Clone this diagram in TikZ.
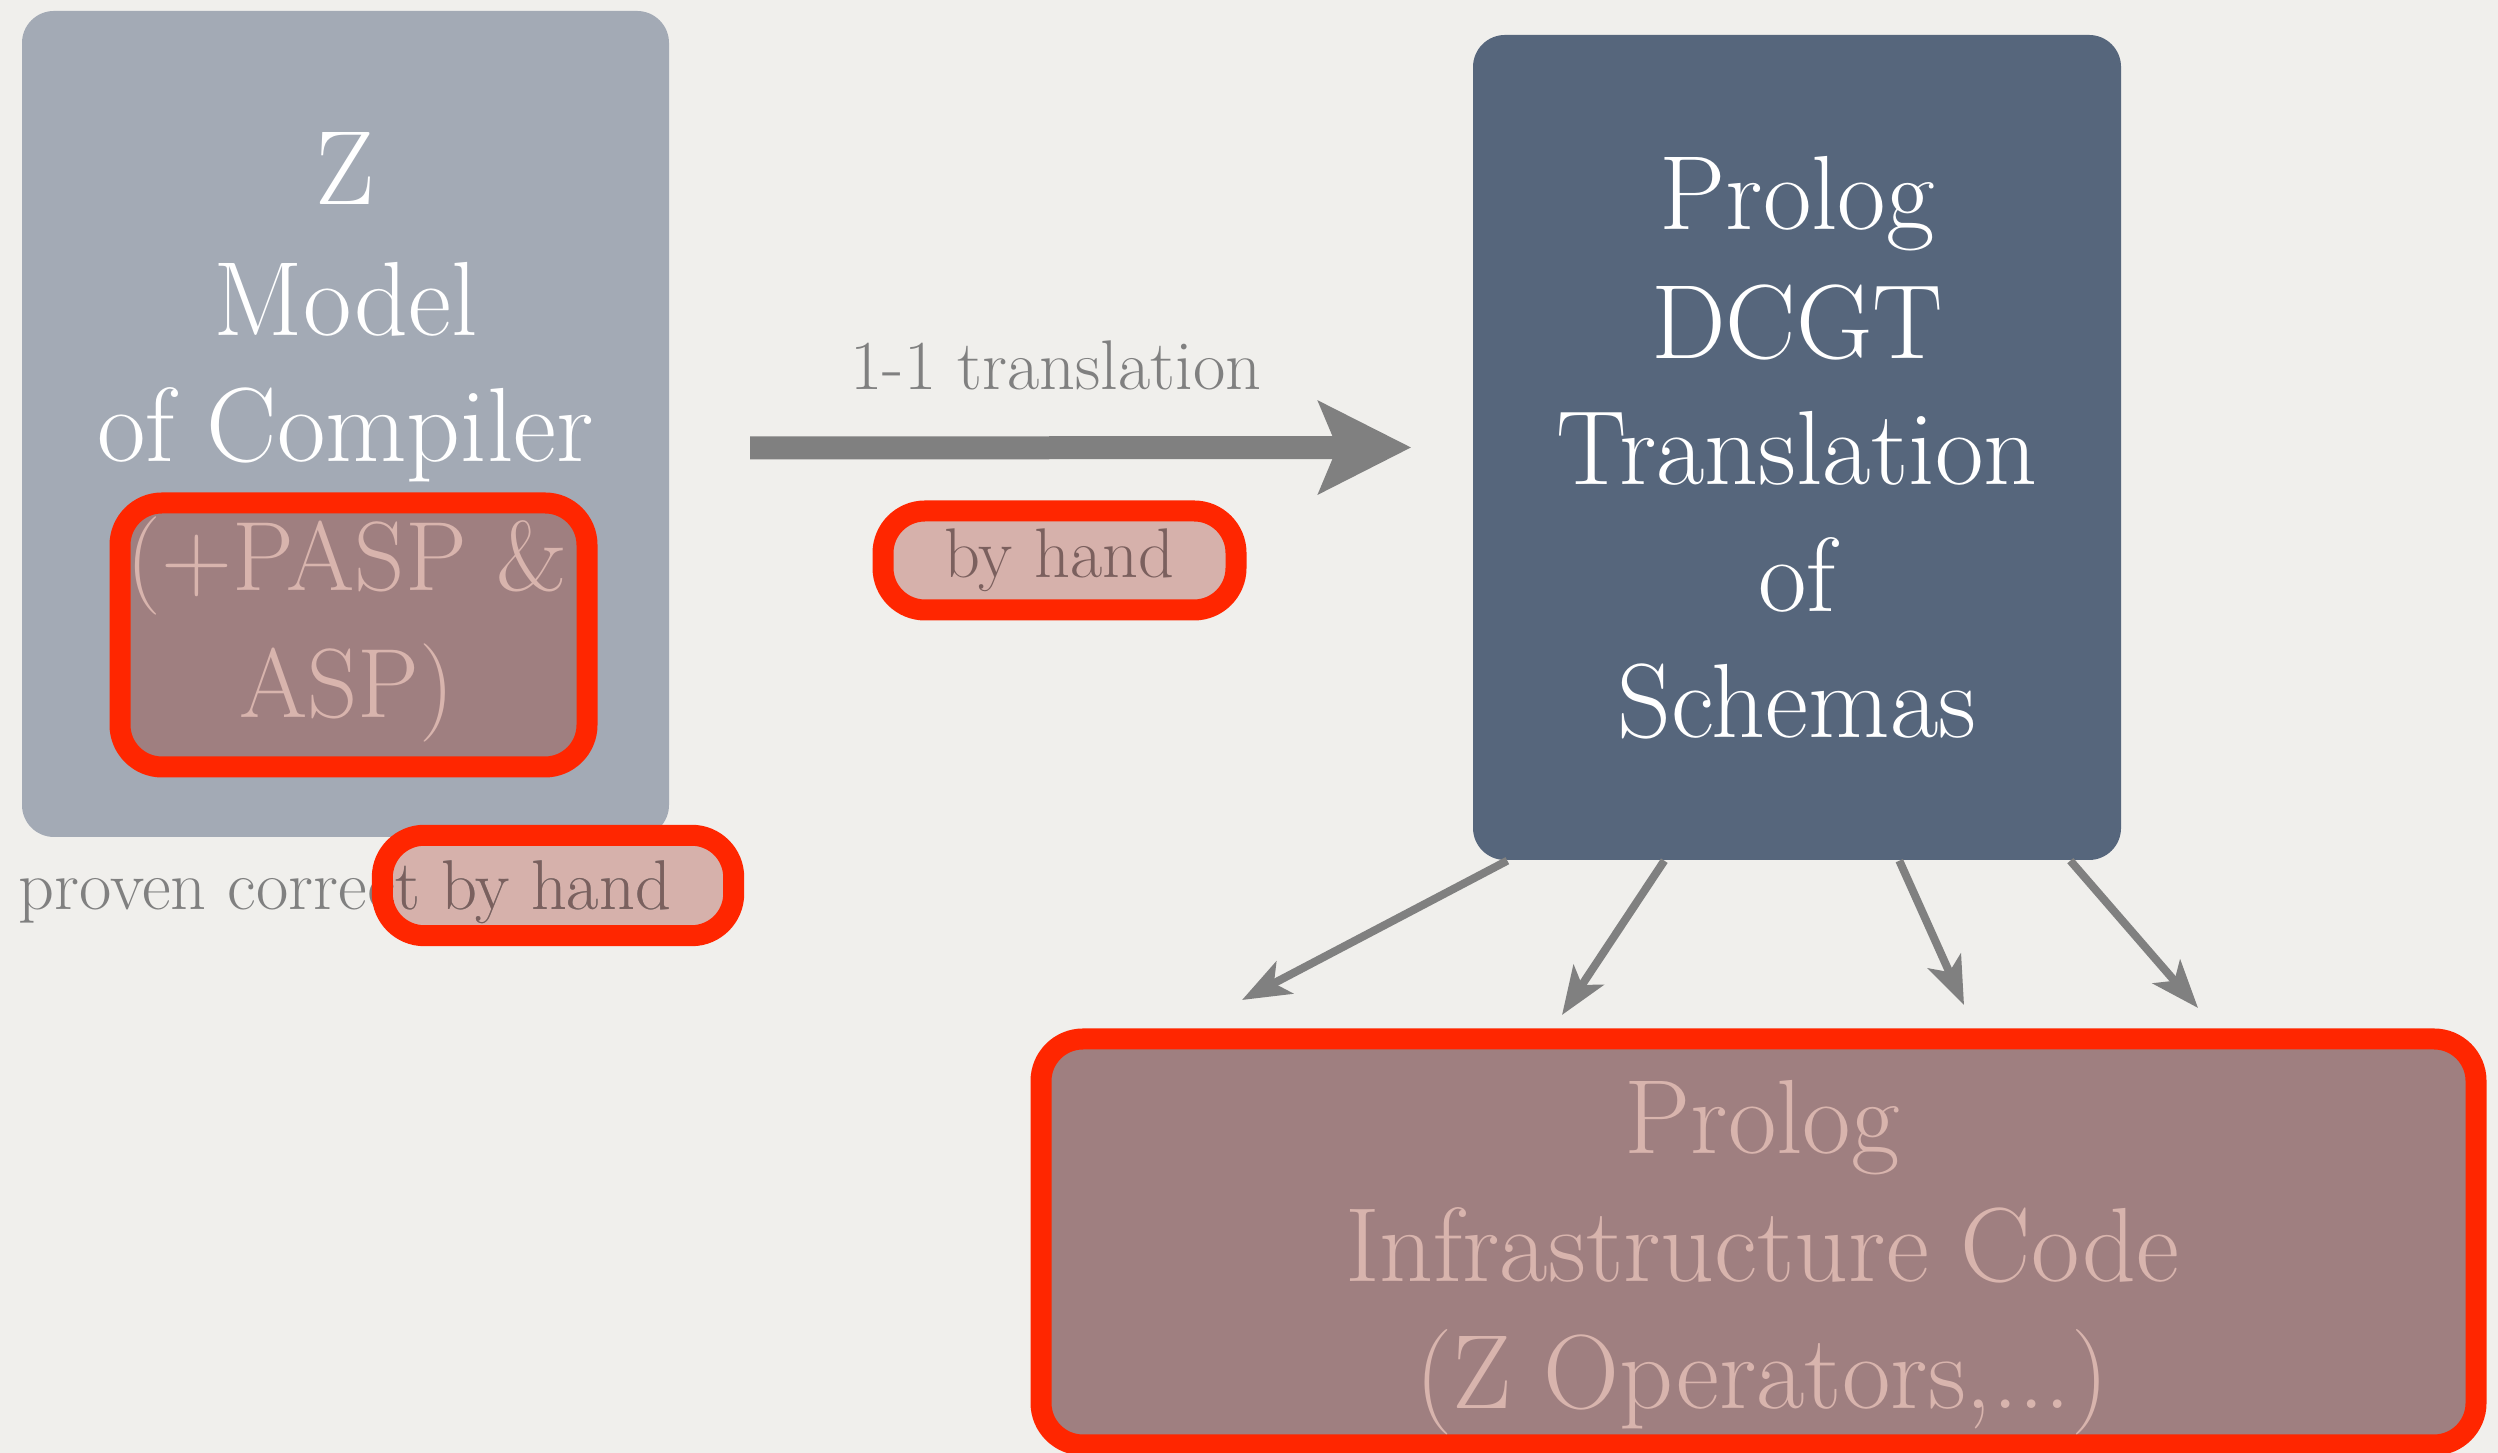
\documentclass[tikz,border=0pt]{standalone}
\usetikzlibrary{arrows.meta,positioning}
\definecolor{colPaper}{RGB}{240,239,236}
\definecolor{colZ}{RGB}{163,170,181}
\definecolor{colDCGT}{RGB}{86,102,124}
\definecolor{colRed}{RGB}{255,38,0}
\definecolor{colBrown}{RGB}{159,127,128}
\definecolor{colPinkText}{RGB}{216,180,173}
\definecolor{colPink}{RGB}{214,177,171}
\definecolor{colHandText}{RGB}{123,96,94}
\definecolor{colGrey}{RGB}{128,128,128}
\begin{document}
\begin{tikzpicture}[
    big/.style={font=\fontsize{30}{36}\selectfont, anchor=base, inner sep=0pt},
    small/.style={font=\fontsize{20}{24}\selectfont, inner sep=0pt},
    panel/.style={rounded corners=0.32cm, inner sep=0pt},
    redline/.style={draw=colRed, line width=0.21cm, rounded corners=0.42cm, inner sep=0pt},
    bigArrow/.style={colGrey, line width=0.23cm, -{Stealth[length=0.92cm, width=0.91cm, inset=0.18cm]}},
    thinArrow/.style={colGrey, line width=0.08cm, -{Stealth[length=0.48cm, width=0.36cm, inset=0.12cm]}}
]
    % paper
    \fill[colPaper] (0,0) rectangle (24.98,14.53);
    \useasboundingbox (0,0) rectangle (24.98,14.53);

    % Z model
    \node[panel, fill=colZ, minimum width=6.47cm, minimum height=8.26cm] (zmodel) at (3.455,10.29) {};
    \node[redline, fill=colBrown, minimum width=4.67cm, minimum height=2.64cm] (pasp) at (3.535,8.18) {};
    \foreach \txt/\y [count=\i] in {Z/12.48, Model/11.17, of Compiler/9.91}
        \node[big, white] (zline\i) at (3.455,\y) {\txt};
    \node[big, colPinkText, font=\fontsize{28}{36}\selectfont] (pasp1) at (3.47,8.62) {(+PASP \&};
    \node[big, colPinkText, font=\fontsize{28}{36}\selectfont] (pasp2) at (3.47,7.35) {ASP)};

    % Prolog DCGT
    \node[panel, fill=colDCGT, minimum width=6.48cm, minimum height=8.25cm] (dcgt) at (17.97,10.055) {};
    \foreach \txt/\y [count=\i] in {Prolog/12.23, DCGT/10.94, Translation/9.68, of/8.41, Schemas/7.15}
        \node[big, white] (dline\i) at (17.97,\y) {\txt};

    % translation arrow
    \node[small, colGrey, anchor=base] (oneone) at (10.56,10.63) {1-1 translation};
    \coordinate (arrowStart) at (7.50,10.05);
    \draw[bigArrow] (arrowStart) -- ([xshift=-0.61cm]dcgt.west);
    \node[redline, fill=colPink, text=colHandText, small, minimum width=3.53cm, minimum height=0.99cm] (byhand) at (10.595,8.925) {by hand};

    % proof
    \node[fill=colPink, rounded corners=0.42cm, inner sep=0pt, minimum width=3.50cm, minimum height=0.99cm] (proofbox) at (5.58,5.675) {};
    \node[small, colGrey, anchor=base west] (proof) at (0.18,5.43) {proven correct by hand};
    \begin{scope}
        \clip[rounded corners=0.42cm] (proofbox.south west) rectangle (proofbox.north east);
        \node[small, colHandText, anchor=base west] (proofIn) at (0.18,5.43) {proven correct by hand};
    \end{scope}
    \draw[redline] (proofbox.south west) rectangle (proofbox.north east);

    % infrastructure
    \node[redline, fill=colBrown, minimum width=14.35cm, minimum height=4.06cm] (infra) at (17.585,2.11) {};
    \node[big, colPinkText] (infra1) at (17.62,2.99) {Prolog};
    \node[big, colPinkText] (infra2) at (17.62,1.71) {Infrastructure Code};
    \node[big, colPinkText] (infra3) at (17.62,0.44) {(Z Operators,...)};

    \foreach \sx/\tx/\ty [count=\i] in {0.35/12.42/4.53, 1.92/15.62/4.38, 4.27/19.64/4.48, 5.98/21.98/4.45} {
        \coordinate (tip\i) at (\tx,\ty);
        \draw[thinArrow] ([xshift=\sx cm]dcgt.south west) -- (tip\i);
    }
\end{tikzpicture}
\end{document}
